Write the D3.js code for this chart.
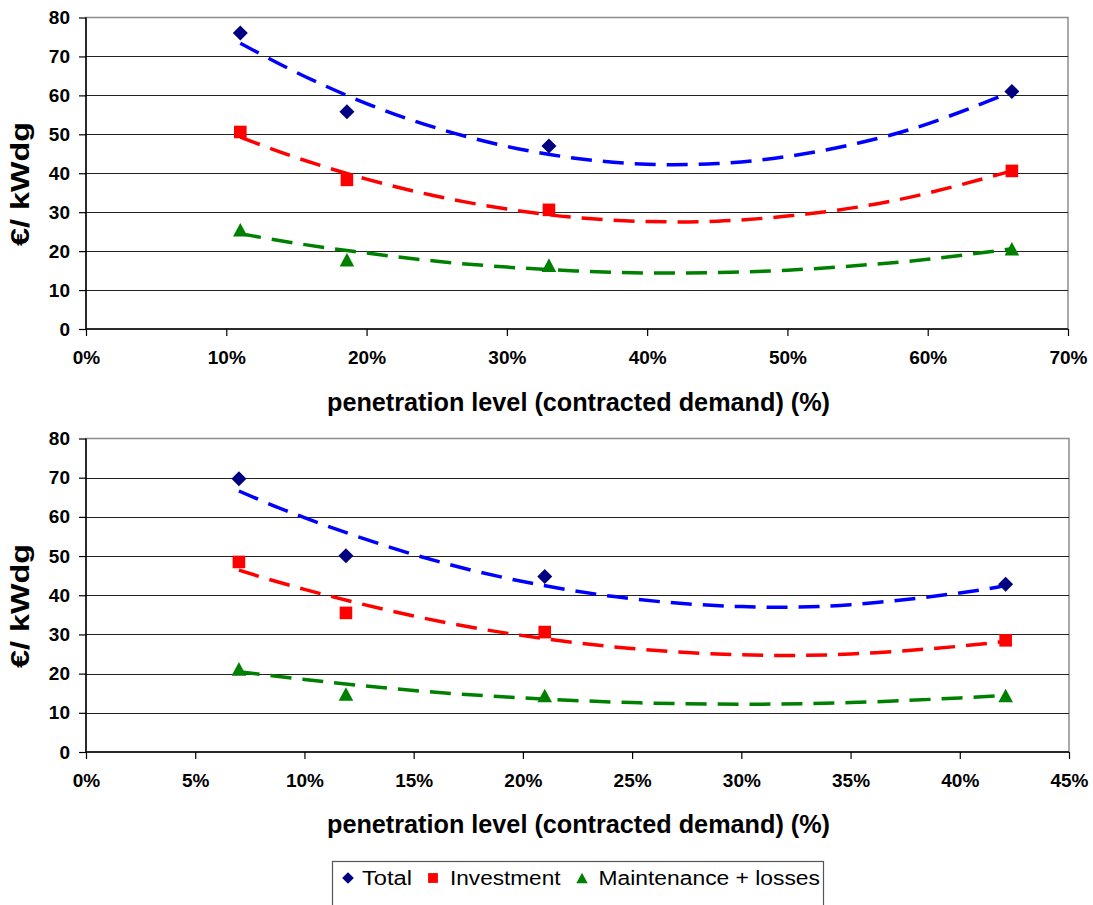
<!DOCTYPE html>
<html><head><meta charset="utf-8">
<script src="https://cdn.jsdelivr.net/npm/d3@7"></script>
<style>body{margin:0;background:#fff} svg{display:block} text{font-family:"Liberation Sans",Arial,sans-serif}</style>
</head><body><svg id="c" width="1093" height="905"></svg>
<script>
// ---------- data ----------
const seriesNames = ["Total", "Investment", "Maintenance + losses"];
const yTicks = [0, 10, 20, 30, 40, 50, 60, 70, 80];
const yAxisTitle = "€/ kWdg";
const xAxisTitle = "penetration level (contracted demand) (%)";

// top chart
const topXTicks = [0, 10, 20, 30, 40, 50, 60, 70];
const topX = [11.0, 18.6, 33.0, 66.0];
const topTotal = [76.0, 55.8, 47.0, 61.0];
const topInvestment = [50.6, 38.3, 30.6, 40.6];
const topMaintenance = [25.5, 17.8, 16.4, 20.6];
const topTrendX = [11, 15, 20, 25, 30, 35, 40, 45, 50, 55, 60, 66];
const topTotalTrend = [73.4, 65.9, 57.9, 51.6, 46.9, 43.8, 42.3, 42.5, 44.3, 47.7, 52.7, 60.9];
const topInvestmentTrend = [49.3, 44.0, 38.5, 34.1, 30.8, 28.6, 27.6, 27.7, 29.0, 31.3, 34.9, 40.6];
const topMaintenanceTrend = [24.5, 22.0, 19.5, 17.4, 15.9, 14.9, 14.4, 14.5, 15.1, 16.3, 17.9, 20.6];

// bottom chart
const botXTicks = [0, 5, 10, 15, 20, 25, 30, 35, 40, 45];
const botX = [7.0, 11.9, 21.0, 42.1];
const botTotal = [69.7, 50.1, 44.8, 42.8];
const botInvestment = [48.5, 35.5, 30.6, 28.5];
const botMaintenance = [21.2, 14.8, 14.4, 14.4];
const botTrendX = [7, 10, 15, 20, 25, 30, 35, 40, 42.1];
const botTotalTrend = [66.6, 59.8, 50.4, 43.5, 39.1, 37.1, 37.6, 40.6, 42.5];
const botInvestmentTrend = [46.4, 41.5, 34.7, 29.7, 26.4, 24.8, 25.0, 27.0, 28.3];
const botMaintenanceTrend = [20.5, 18.5, 15.7, 13.8, 12.6, 12.2, 12.6, 13.8, 14.5];

// ---------- drawing ----------
const svg = d3.select("#c");
const markerColors = ["#000080", "#FF0000", "#008000"];
const trendColors = ["#0000FF", "#FF0000", "#008000"];
const FONT = '"Liberation Sans", Arial, sans-serif';

function markerPath(type, cx, cy, s) {
  if (type === 0) { const r = 7.5 * s; return `M${cx},${cy - r}L${cx + r},${cy}L${cx},${cy + r}L${cx - r},${cy}Z`; }
  if (type === 1) { const r = 6.3 * s; return `M${cx - r},${cy - r}H${cx + r}V${cy + r}H${cx - r}Z`; }
  const w = 7.3 * s, h = 6.8 * s; return `M${cx},${cy - h}L${cx + w},${cy + h}L${cx - w},${cy + h}Z`;
}

function drawChart(cfg) {
  const g = svg.append("g");
  const x = d3.scaleLinear().domain([cfg.xTicks[0], cfg.xTicks[cfg.xTicks.length - 1]]).range([cfg.left, cfg.right]);
  const y = d3.scaleLinear().domain([0, 80]).range([cfg.bottom, cfg.top]);

  // plot border
  g.append("rect").attr("x", cfg.left).attr("y", cfg.top)
    .attr("width", cfg.right - cfg.left).attr("height", cfg.bottom - cfg.top)
    .attr("fill", "none").attr("stroke", "#8c8c8c").attr("stroke-width", 1.5);
  // gridlines
  g.selectAll(".grid").data(yTicks.filter(t => t > 0 && t < 80)).enter().append("line")
    .attr("x1", cfg.left).attr("x2", cfg.right)
    .attr("y1", d => Math.round(y(d)) + 0.5).attr("y2", d => Math.round(y(d)) + 0.5)
    .attr("stroke", "#222").attr("stroke-width", 1.2);

  // axes
  const ya = d3.axisLeft(y).tickValues(yTicks).tickSize(7).tickPadding(9).tickFormat(d3.format("d"));
  const yg = g.append("g").attr("transform", `translate(${cfg.left},0)`).call(ya);
  const xa = d3.axisBottom(x).tickValues(cfg.xTicks).tickSize(7).tickPadding(15).tickFormat(d => d + "%");
  const xg = g.append("g").attr("transform", `translate(0,${cfg.bottom})`).call(xa);
  [yg, xg].forEach(a => {
    a.select(".domain").attr("stroke", "#000").attr("stroke-width", 1.5);
    a.selectAll(".tick line").attr("stroke", "#000").attr("stroke-width", 1.2);
    a.selectAll("text").attr("font-family", FONT).attr("font-size", 19).attr("font-weight", "bold").attr("fill", "#000");
  });
  yg.selectAll(".domain").attr("d", `M0,${cfg.top}V${cfg.bottom}`);
  xg.selectAll(".domain").attr("d", `M${cfg.left},0H${cfg.right}`);

  // trendlines
  const line = d3.line().x(d => x(d[0])).y(d => y(d[1])).curve(d3.curveNatural);
  cfg.trends.forEach((t, i) => {
    g.append("path").datum(cfg.trendX.map((xv, j) => [xv, t[j]]))
      .attr("d", line).attr("fill", "none").attr("stroke", trendColors[i])
      .attr("stroke-width", 3.5).attr("stroke-dasharray", "21,11");
  });
  // markers
  cfg.series.forEach((s, i) => {
    g.selectAll(null).data(cfg.xs.map((xv, j) => [xv, s[j]])).enter().append("path")
      .attr("d", d => markerPath(i, x(d[0]), y(d[1]), 1)).attr("fill", markerColors[i]);
  });

  // titles
  g.append("text").attr("transform", `translate(${cfg.yTitleX},${cfg.yTitleY}) rotate(-90)`)
    .attr("text-anchor", "middle").attr("font-family", FONT).attr("font-size", 26).attr("font-weight", "bold")
    .attr("textLength", 124).attr("lengthAdjust", "spacingAndGlyphs")
    .text(yAxisTitle);
  g.append("text").attr("x", 578.5).attr("y", cfg.xTitleY)
    .attr("text-anchor", "middle").attr("font-family", FONT).attr("font-size", 25.5).attr("font-weight", "bold")
    .attr("textLength", 503).attr("lengthAdjust", "spacingAndGlyphs")
    .text(xAxisTitle);
}

drawChart({
  left: 86, right: 1068, top: 17.5, bottom: 329, xTicks: topXTicks,
  xs: topX, series: [topTotal, topInvestment, topMaintenance],
  trendX: topTrendX, trends: [topTotalTrend, topInvestmentTrend, topMaintenanceTrend],
  yTitleX: 29, yTitleY: 184, xTitleY: 410.5
});
drawChart({
  left: 86, right: 1069, top: 438.5, bottom: 752, xTicks: botXTicks,
  xs: botX, series: [botTotal, botInvestment, botMaintenance],
  trendX: botTrendX, trends: [botTotalTrend, botInvestmentTrend, botMaintenanceTrend],
  yTitleX: 29, yTitleY: 606, xTitleY: 832.5
});

// legend
const lg = svg.append("g");
lg.append("rect").attr("x", 332.5).attr("y", 861.5).attr("width", 491).attr("height", 60)
  .attr("fill", "#fff").attr("stroke", "#555").attr("stroke-width", 1.2);
const legendItems = [
  { sx: 348, tx: 362, w: 50 },
  { sx: 433, tx: 450, w: 110.5 },
  { sx: 582, tx: 598.5, w: 221.5 }
];
legendItems.forEach((it, i) => {
  lg.append("path").attr("d", markerPath(i, it.sx, 878, 0.78)).attr("fill", markerColors[i]);
  lg.append("text").attr("x", it.tx).attr("y", 884.5).attr("font-family", FONT).attr("font-size", 20)
    .attr("textLength", it.w).attr("lengthAdjust", "spacingAndGlyphs")
    .attr("fill", "#000").text(seriesNames[i]);
});
</script></body></html>
